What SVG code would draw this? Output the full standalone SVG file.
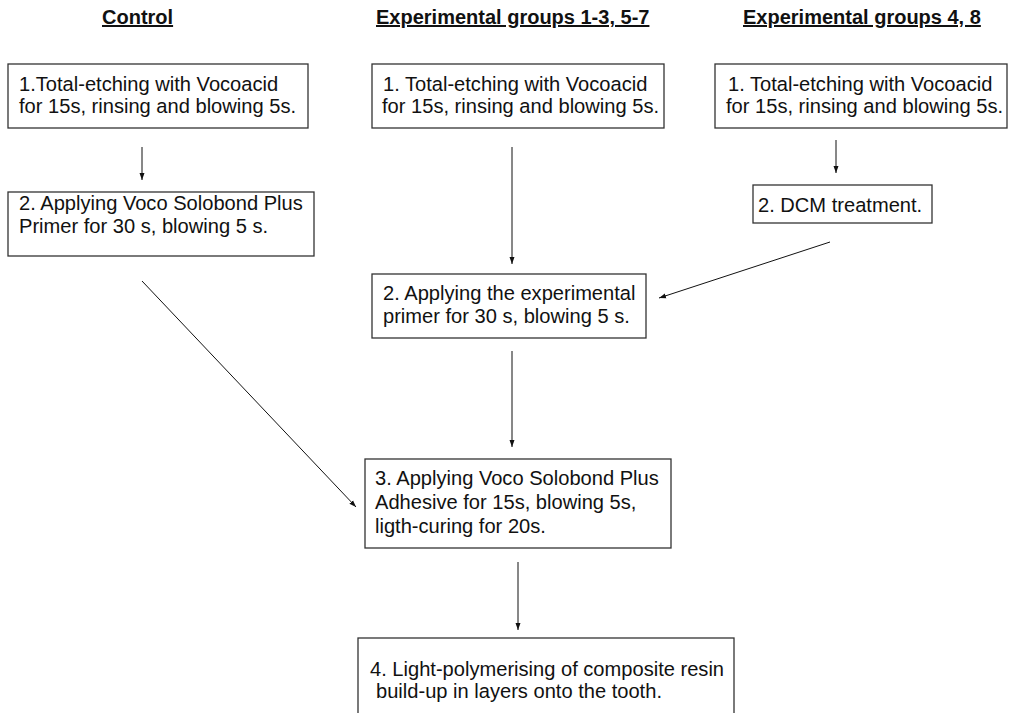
<svg xmlns="http://www.w3.org/2000/svg" width="1013" height="713" viewBox="0 0 1013 713">
<style>
text{font-family:"Liberation Sans",Arial,sans-serif;font-size:20.1px;fill:#111}
.h{font-size:20px;font-weight:bold;text-decoration:underline}
.box{fill:#fff;stroke:#333;stroke-width:1.3}
.c{stroke:#111;stroke-width:1;fill:none;marker-end:url(#ah)}
</style>
<defs>
<marker id="ah" markerUnits="userSpaceOnUse" markerWidth="8" markerHeight="6" refX="7" refY="3" orient="auto">
<path d="M0,0.5 L7,3 L0,5.5 Z" fill="#111"/>
</marker>
</defs>
<rect width="1013" height="713" fill="#fff"/>
<g id="headers">
<text class="h" x="102" y="24">Control</text>
<text class="h" x="376" y="24">Experimental groups 1-3, 5-7</text>
<text class="h" x="743" y="24">Experimental groups 4, 8</text>
</g>
<g id="connectors">
<line class="c" x1="142" y1="147" x2="142" y2="180"/>
<line class="c" x1="142" y1="281" x2="356" y2="507"/>
<line class="c" x1="512" y1="147" x2="512" y2="264"/>
<line class="c" x1="836" y1="140" x2="836" y2="173"/>
<line class="c" x1="830" y1="242" x2="659" y2="298"/>
<line class="c" x1="512" y1="351" x2="512" y2="447"/>
<line class="c" x1="518" y1="562" x2="518" y2="630"/>
</g>
<g id="c1">
<rect class="box" x="8" y="64" width="300" height="64"/>
<text x="19" y="91">1.Total-etching with Vocoacid</text>
<text x="19" y="113">for 15s, rinsing and blowing 5s.</text>
</g>
<g id="c2">
<rect class="box" x="8" y="192" width="306" height="64"/>
<text x="19" y="210">2. Applying Voco Solobond Plus</text>
<text x="19" y="233">Primer for 30 s, blowing 5 s.</text>
</g>
<g id="e1">
<rect class="box" x="372" y="64" width="292" height="64"/>
<text x="383" y="91">1. Total-etching with Vocoacid</text>
<text x="382" y="113">for 15s, rinsing and blowing 5s.</text>
</g>
<g id="f1">
<rect class="box" x="715" y="64" width="292" height="64"/>
<text x="728" y="91">1. Total-etching with Vocoacid</text>
<text x="726" y="113">for 15s, rinsing and blowing 5s.</text>
</g>
<g id="f2">
<rect class="box" x="753" y="185" width="179" height="38"/>
<text x="758" y="212">2. DCM treatment.</text>
</g>
<g id="e2">
<rect class="box" x="372" y="274" width="274" height="64"/>
<text x="383" y="300">2. Applying the experimental</text>
<text x="383" y="323">primer for 30 s, blowing 5 s.</text>
</g>
<g id="e3">
<rect class="box" x="365" y="459" width="306" height="89"/>
<text x="375" y="485">3. Applying Voco Solobond Plus</text>
<text x="375" y="509">Adhesive for 15s, blowing 5s,</text>
<text x="375" y="533">ligth-curing for 20s.</text>
</g>
<g id="e4">
<rect class="box" x="358" y="638" width="376" height="90"/>
<text x="370" y="676">4. Light-polymerising of composite resin</text>
<text x="376" y="698">build-up in layers onto the tooth.</text>
</g>
</svg>
